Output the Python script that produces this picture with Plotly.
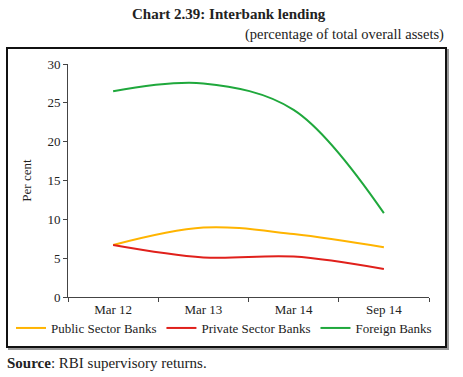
import plotly.graph_objects as go

categories = ["Mar 12", "Mar 13", "Mar 14", "Sep 14"]
public_sector = [6.7, 8.95, 8.1, 6.4]
private_sector = [6.7, 5.1, 5.2, 3.6]
foreign_banks = [26.5, 27.5, 24.1, 10.8]
series_names = ["Public Sector Banks", "Private Sector Banks", "Foreign Banks"]
series_colors = ["#FFB400", "#E0201B", "#1FA83C"]

FONT = "Liberation Serif"
fig = go.Figure()
for name, vals, col in zip(series_names, [public_sector, private_sector, foreign_banks], series_colors):
    fig.add_trace(go.Scatter(x=categories, y=vals, name=name, mode="lines",
                             line=dict(color=col, width=2, shape="spline", smoothing=1.0)))

W, H = 463, 377
l, r, t, b = 68, 34, 64, 80
pw, ph = W - l - r, H - t - b

def px(x):
    return (x - l) / pw

def py(y):
    return (H - b - y) / ph

fig.update_layout(
    width=W, height=H,
    margin=dict(l=l, r=r, t=t, b=b, autoexpand=False),
    paper_bgcolor="white", plot_bgcolor="white",
    font=dict(family=FONT, size=13, color="#222"),
    showlegend=True,
    legend=dict(orientation="h", x=px(11), y=py(328), xanchor="left", yanchor="middle",
                font=dict(family=FONT, size=13, color="#222"), itemwidth=30,
                tracegroupgap=0, bgcolor="rgba(0,0,0,0)"),
    xaxis=dict(type="category", range=[-0.5, 3.5], showgrid=False, showline=True,
               linecolor="#444", linewidth=1, ticks="outside", tickson="boundaries",
               ticklen=4, tickcolor="#444", tickfont=dict(size=13, family=FONT), fixedrange=True),
    yaxis=dict(range=[0, 30], dtick=5, showgrid=False, showline=True, linecolor="#444",
               linewidth=1, ticks="outside", ticklen=4, tickcolor="#444", zeroline=False,
               tickfont=dict(size=13, family=FONT), fixedrange=True,
               title=dict(text="Per cent", font=dict(size=13, family=FONT), standoff=12)),
)

# frame with a slight drop shadow
fig.add_shape(type="rect", xref="paper", yref="paper", x0=px(9), x1=px(448), y0=py(349), y1=py(50),
              line=dict(color="#999", width=2), fillcolor="rgba(0,0,0,0)", layer="below")
fig.add_shape(type="rect", xref="paper", yref="paper", x0=px(7), x1=px(446), y0=py(347), y1=py(48),
              line=dict(color="#111", width=2), fillcolor="white", layer="below")

fig.add_annotation(text="<b>Chart 2.39: Interbank lending</b>", xref="paper", yref="paper",
                   x=px(229), y=py(14), xanchor="center", yanchor="middle", showarrow=False,
                   font=dict(family=FONT, size=15, color="#222"))
fig.add_annotation(text="(percentage of total overall assets)", xref="paper", yref="paper",
                   x=px(446), y=py(34), xanchor="right", yanchor="middle", showarrow=False,
                   font=dict(family=FONT, size=14.5, color="#222"))
fig.add_annotation(text="<b>Source</b>: RBI supervisory returns.", xref="paper", yref="paper",
                   x=px(5), y=py(363), xanchor="left", yanchor="middle", showarrow=False,
                   font=dict(family=FONT, size=15, color="#222"))

fig.write_html("out.html", config={"displayModeBar": False},
               post_script="document.body.style.margin='0px';")
